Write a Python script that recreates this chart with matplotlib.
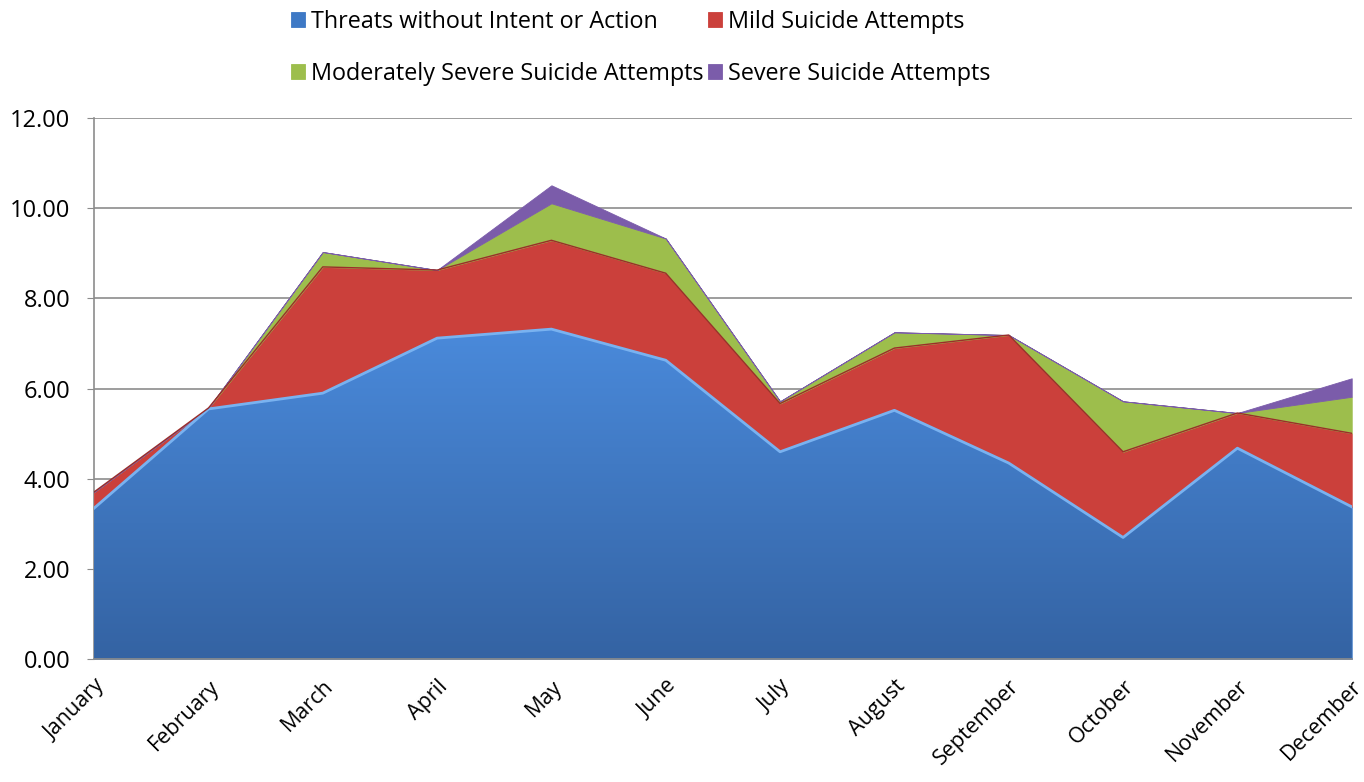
import matplotlib.pyplot as plt
import numpy as np
from matplotlib.colors import LinearSegmentedColormap

plt.rcParams['font.family'] = ['Open Sans', 'DejaVu Sans']

months = ['January', 'February', 'March', 'April', 'May', 'June', 'July',
          'August', 'September', 'October', 'November', 'December']
threats = [3.35, 5.55, 5.90, 7.12, 7.32, 6.63, 4.60, 5.52, 4.35, 2.70, 4.68, 3.38]
mild = [0.36, 0.02, 2.80, 1.51, 1.97, 1.93, 1.07, 1.38, 2.84, 1.90, 0.78, 1.63]
moderate = [0.00, 0.00, 0.33, 0.00, 0.82, 0.77, 0.05, 0.35, 0.00, 1.12, 0.00, 0.81]
severe = [0.00, 0.00, 0.00, 0.00, 0.40, 0.00, 0.00, 0.00, 0.00, 0.00, 0.00, 0.41]

labels = ['Threats without Intent or Action', 'Mild Suicide Attempts',
          'Moderately Severe Suicide Attempts', 'Severe Suicide Attempts']
colors = ['#3E79C5', '#CB403B', '#9DBE4C', '#7B5CAA']

fig = plt.figure(figsize=(13.64, 7.82), dpi=100)
ax = fig.add_axes([0.069, 0.157, 0.922, 0.692])

x = np.arange(len(months))
polys = ax.stackplot(x, threats, mild, moderate, severe, colors=colors,
                     labels=labels, zorder=3)
for p, c in zip(polys, colors):
    p.set_edgecolor(c)
    p.set_linewidth(0.6)

# vertical gradient on the blue area
cmap = LinearSegmentedColormap.from_list('bl', ['#3463A3', '#4A8ADB'])
grad = np.linspace(0, 1, 256).reshape(-1, 1)
im = ax.imshow(grad, cmap=cmap, origin='lower', aspect='auto',
               extent=[0, 11, 0, max(threats)], zorder=3.5)
im.set_clip_path(polys[0].get_paths()[0], transform=ax.transData)

# edge highlights
cum1 = np.array(threats)
cum2 = cum1 + np.array(mild)
ax.plot(x, cum1, color='#79B2F0', lw=2, zorder=4)
ax.plot(x, cum2, color='#9A2E2A', lw=1, zorder=4)

ax.set_xlim(0, 11)
ax.set_ylim(0, 12)
ax.set_yticks(np.arange(0, 12.1, 2))
ax.set_yticklabels(['%.2f' % v for v in np.arange(0, 12.1, 2)], fontsize=17)
ax.set_xticks(x)
ax.set_xticklabels(months, rotation=45, ha='right', va='top',
                   rotation_mode='anchor', fontsize=15.5)
ax.tick_params(axis='x', length=0, pad=12)
ax.tick_params(axis='y', length=5, color='#8C8C8C', pad=12)
ax.grid(axis='y', color='#8C8C8C', linewidth=1.2, zorder=0)
for s in ['top', 'right']:
    ax.spines[s].set_visible(False)
ax.spines['left'].set_color('#8C8C8C')
ax.spines['bottom'].set_color('#8C8C8C')
ax.spines['left'].set_linewidth(1.2)
ax.spines['bottom'].set_linewidth(1.2)
ax.spines['bottom'].set_zorder(5)

order = [0, 2, 1, 3]
fig.legend(handles=[polys[i] for i in order], labels=[labels[i] for i in order],
           ncol=2, loc='upper left', bbox_to_anchor=(0.198, 1.014),
           frameon=False, fontsize=16.8, labelspacing=1.2, columnspacing=0.2,
           handlelength=0.6, handleheight=0.6, handletextpad=0.25)

fig.savefig('out.png', dpi=100)
